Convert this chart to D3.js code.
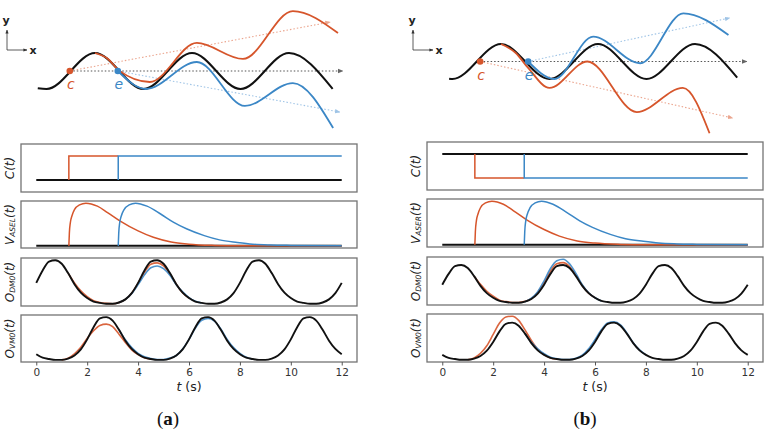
<!DOCTYPE html>
<html>
<head>
<meta charset="utf-8">
<script src="https://cdn.jsdelivr.net/npm/d3@7"></script>
<style>
  body { margin: 0; background: #fff; }
  svg { display: block; }
</style>
</head>
<body>
<svg id="fig" width="769" height="440"></svg>
<script>

// ---- data ----

const tickValues = [0, 2, 4, 6, 8, 10, 12];
const tGrid = d3.range(0, 12.001, 0.25);

// oscillator outputs, sampled every 0.25 s
const oDM0Black = [0.48,0.76,0.96,0.99,0.91,0.70,0.45,0.26,0.14,0.06,0.03,0.01,0.01,0.04,0.11,0.25,
                   0.48,0.76,0.96,0.99,0.91,0.70,0.45,0.26,0.14,0.06,0.03,0.01,0.01,0.04,0.11,0.25,
                   0.48,0.76,0.96,0.99,0.91,0.70,0.45,0.26,0.14,0.06,0.03,0.01,0.01,0.04,0.11,0.25,0.48];
const oVM0Black = [0.14,0.06,0.03,0.01,0.01,0.04,0.11,0.25,0.48,0.76,0.96,0.99,0.91,0.70,0.45,0.26,
                   0.14,0.06,0.03,0.01,0.01,0.04,0.11,0.25,0.48,0.76,0.96,0.99,0.91,0.70,0.45,0.26,
                   0.14,0.06,0.03,0.01,0.01,0.04,0.11,0.25,0.48,0.76,0.96,0.99,0.91,0.70,0.45,0.26,0.14];

// perturbed parts (t, value)
const oDM0RedA  = [[1.25,0.70],[1.5,0.48],[1.75,0.30],[2.0,0.17],[2.25,0.08],[2.5,0.04],[2.75,0.02],[3.0,0.01],[3.25,0.04],[3.5,0.11],[3.75,0.25],[4.0,0.47],[4.25,0.72],[4.5,0.90],[4.75,0.93],[5.0,0.86],[5.25,0.68],[5.5,0.45],[5.75,0.26],[6.0,0.14]];
const oDM0BlueA = [[3.25,0.04],[3.5,0.11],[3.75,0.24],[4.0,0.44],[4.25,0.66],[4.5,0.82],[4.75,0.86],[5.0,0.80],[5.25,0.65],[5.5,0.44],[5.75,0.28],[6.0,0.15],[6.25,0.07],[6.5,0.03]];
const oVM0RedA  = [[1.0,0.01],[1.25,0.05],[1.5,0.15],[1.75,0.30],[2.0,0.50],[2.25,0.68],[2.5,0.80],[2.75,0.83],[3.0,0.77],[3.25,0.60],[3.5,0.41],[3.75,0.24],[4.0,0.13],[4.25,0.06],[4.5,0.03]];
const oVM0BlueA = [[3.25,0.70],[3.5,0.47],[3.75,0.29],[4.0,0.16],[4.25,0.08],[4.5,0.04],[4.75,0.02],[5.0,0.02],[5.25,0.05],[5.5,0.11],[5.75,0.26],[6.0,0.48],[6.25,0.74],[6.5,0.92],[6.75,0.96],[7.0,0.90],[7.25,0.72],[7.5,0.48],[7.75,0.29],[8.0,0.16],[8.25,0.07],[8.5,0.03]];

const oDM0RedB  = [[1.25,0.70],[1.5,0.49],[1.75,0.31],[2.0,0.18],[2.25,0.08],[2.5,0.04],[2.75,0.02],[3.0,0.02],[3.25,0.05],[3.5,0.12],[3.75,0.28],[4.0,0.53],[4.25,0.83],[4.5,1.02],[4.75,1.05],[5.0,0.95],[5.25,0.73],[5.5,0.46],[5.75,0.26],[6.0,0.14]];
const oDM0BlueB = [[3.25,0.04],[3.5,0.13],[3.75,0.30],[4.0,0.58],[4.25,0.90],[4.5,1.10],[4.75,1.14],[5.0,1.02],[5.25,0.77],[5.5,0.48],[5.75,0.27],[6.0,0.14],[6.25,0.06]];
const oVM0RedB  = [[1.0,0.01],[1.25,0.06],[1.5,0.18],[1.75,0.38],[2.0,0.68],[2.25,0.98],[2.5,1.14],[2.75,1.16],[3.0,1.05],[3.25,0.80],[3.5,0.52],[3.75,0.29],[4.0,0.15],[4.25,0.06],[4.5,0.03]];
const oVM0BlueB = [[3.25,0.70],[3.5,0.47],[3.75,0.30],[4.0,0.17],[4.25,0.08],[4.5,0.04],[4.75,0.02],[5.0,0.02],[5.25,0.05],[5.5,0.13],[5.75,0.30],[6.0,0.54],[6.25,0.80],[6.5,0.98],[6.75,1.01],[7.0,0.93],[7.25,0.72],[7.5,0.46],[7.75,0.27],[8.0,0.14]];

// stimulus steps
const cBlackA = [[0,0],[12,0]];
const cRedA   = [[1.28,0],[1.28,1],[3.22,1]];
const cBlueA  = [[3.22,0],[3.22,1],[12,1]];
const cBlackB = [[0,1],[12,1]];
const cRedB   = [[1.28,1],[1.28,0],[3.22,0]];
const cBlueB  = [[3.22,1],[3.22,0],[12,0]];

// ASE responses
const vBlack = [[0,0],[12,0]];
const vRed  = [[1.28,0],[1.30,0.30],[1.34,0.55],[1.40,0.70],[1.5,0.85],[1.7,0.96],[1.95,1.0],[2.4,0.93],[2.8,0.78],[3.3,0.58],[4.0,0.35],[4.6,0.20],[5.3,0.09],[6.0,0.04],[7.0,0.01],[8.0,0],[12,0]];
const vBlue = [[3.22,0],[3.24,0.30],[3.28,0.55],[3.34,0.70],[3.45,0.85],[3.65,0.96],[3.9,1.0],[4.35,0.93],[4.9,0.74],[5.4,0.55],[5.9,0.40],[6.6,0.24],[7.2,0.14],[7.9,0.08],[8.5,0.04],[9.2,0.02],[10.0,0.01],[12,0]];

// sketch curves (phase units, amplitude units)
const sketchBlackA = [[-0.18,-0.96],[0,-1],[1,1],[2,-1],[3,1],[4,-1],[5,1],[5.9,-0.99]];
const sketchRedA   = [[1,1],[1.25,0.71],[1.5,0.02],[2.13,-0.61],[3.1,1.56],[4.05,0.67],[5.08,3.33],[6.01,2.11]];
const sketchBlueA  = [[1.47,0],[2.05,-1.0],[3.1,0.5],[4.09,-1.94],[5.08,-0.67],[5.91,-3.17]];
const sketchBlackB = [[-0.07,-0.98],[0,-1],[1,1],[2,-1],[3,1],[4,-1],[5,1],[5.87,-0.92]];
const sketchRedB   = [[1,1],[1.3,0.5],[1.56,-0.37],[2.0,-1.51],[2.78,0.0],[3.8,-2.89],[4.75,-1.51],[5.3,-4.1]];
const sketchBlueB  = [[1.56,0],[2.1,-1.0],[2.9,1.42],[3.87,-0.1],[4.76,2.75],[5.69,1.51]];
const guideA = { c: 0.48, e: 1.47, black: [6.11, 0], red: [5.85, 2.72], blue: [6.05, -2.28] };
const guideB = { c: 0.57, e: 1.56, black: [6.07, 0], red: [5.78, -3.23], blue: [5.72, 2.49] };

// ---- drawing ----

const RED = "#d6552b", BLUE = "#3b87c6", BLACK = "#111";

const svg = d3.select("#fig");

const defs = svg.append("defs");
function arrowMarker(id, color) {
    defs.append("marker")
        .attr("id", id)
        .attr("viewBox", "0 0 10 10")
        .attr("refX", 9).attr("refY", 5)
        .attr("markerWidth", 5).attr("markerHeight", 5)
        .attr("orient", "auto")
        .append("path")
        .attr("d", "M0,1 L10,5 L0,9 Z")
        .attr("fill", color);
}
arrowMarker("arK", "#666");
arrowMarker("arR", "#eba58e");
arrowMarker("arB", "#9fc4e6");
arrowMarker("arA", "#333");

const panels = [
    {
        x0: 21, x1: 357, dx: 0, sketchX: [46.5, 337.5], sketchY: [89, 53],
        frames: [[144,192],[201,248],[258,306],[315,362]],
        sub: "ASEL", label: "a", labelX: 168,
        c: [cBlackA, cRedA, cBlueA],
        oDM: [oDM0RedA, oDM0BlueA], oVM: [oVM0RedA, oVM0BlueA],
        sk: [sketchBlackA, sketchRedA, sketchBlueA], guide: guideA
    },
    {
        x0: 427, x1: 763, dx: 406, sketchX: [452.5, 743.5], sketchY: [79, 44],
        frames: [[142,190],[199,247],[257,305],[314,362]],
        sub: "ASER", label: "b", labelX: 585,
        c: [cBlackB, cRedB, cBlueB],
        oDM: [oDM0RedB, oDM0BlueB], oVM: [oVM0RedB, oVM0BlueB],
        sk: [sketchBlackB, sketchRedB, sketchBlueB], guide: guideB
    }
];

const blackDM = tGrid.map((t, i) => [t, oDM0Black[i]]);
const blackVM = tGrid.map((t, i) => [t, oVM0Black[i]]);

function padded(values) {
    const [lo, hi] = d3.extent(values);
    const p = (hi - lo) * 0.05;
    return [lo - p, hi + p];
}

panels.forEach(function (P) {
    const g = svg.append("g");

    const x = d3.scaleLinear().domain([-0.6, 12.6]).range([P.x0, P.x1]);

    function yLabel(gg, frame, main, sub) {
        const t = gg.append("text")
            .attr("transform", `translate(${P.x0 - 11},${(frame[0] + frame[1]) / 2}) rotate(-90)`)
            .attr("text-anchor", "middle")
            .attr("dominant-baseline", "middle")
            .style("font-family", "DejaVu Sans")
            .style("font-style", "italic")
            .style("font-size", "12px")
            .attr("fill", "#222");
        t.append("tspan").text(main);
        if (sub) {
            t.append("tspan").attr("dy", 3).style("font-size", "7.5px").text(sub);
            t.append("tspan").attr("dy", -3).text("(t)");
        } else {
            t.append("tspan").text("(t)");
        }
    }

    function panel(frame, domain, series, label, sub, curve) {
        const y = d3.scaleLinear().domain(domain).range([frame[1], frame[0]]);
        const line = d3.line().x(d => x(d[0])).y(d => y(d[1])).curve(curve);
        g.selectAll(null)
            .data(series)
            .enter()
            .append("path")
            .attr("d", d => line(d.pts))
            .attr("fill", "none")
            .attr("stroke", d => d.color)
            .attr("stroke-width", d => d.w)
            .attr("stroke-opacity", d => d.op || 1);
        g.append("rect")
            .attr("x", P.x0).attr("y", frame[0])
            .attr("width", P.x1 - P.x0).attr("height", frame[1] - frame[0])
            .attr("fill", "none")
            .attr("stroke", "#737373")
            .attr("stroke-width", 1.3);
        yLabel(g, frame, label, sub);
        return y;
    }

    // C(t)
    panel(P.frames[0], [-0.5, 1.5], [
        { pts: P.c[0], color: BLACK, w: 2 },
        { pts: P.c[1], color: RED, w: 1.5 },
        { pts: P.c[2], color: BLUE, w: 1.5 }
    ], "C", null, d3.curveLinear);

    // V_ASE(t)
    panel(P.frames[1], padded([0, 1]), [
        { pts: vBlack, color: BLACK, w: 2 },
        { pts: vRed, color: RED, w: 1.5 },
        { pts: vBlue, color: BLUE, w: 1.5 }
    ], "V", P.sub, d3.curveMonotoneX);

    // O_DM0(t)
    const dmVals = oDM0Black.concat(P.oDM[0].map(d => d[1]), P.oDM[1].map(d => d[1]));
    panel(P.frames[2], padded(dmVals), [
        { pts: P.oDM[0], color: RED, w: 1.6, op: 0.9 },
        { pts: P.oDM[1], color: BLUE, w: 1.6, op: 0.9 },
        { pts: blackDM, color: BLACK, w: 1.9 }
    ], "O", "DM0", d3.curveMonotoneX);

    // O_VM0(t)
    const vmVals = oVM0Black.concat(P.oVM[0].map(d => d[1]), P.oVM[1].map(d => d[1]));
    panel(P.frames[3], padded(vmVals), [
        { pts: P.oVM[0], color: RED, w: 1.6, op: 0.9 },
        { pts: P.oVM[1], color: BLUE, w: 1.6, op: 0.9 },
        { pts: blackVM, color: BLACK, w: 1.9 }
    ], "O", "VM0", d3.curveMonotoneX);

    // bottom axis
    const ax = g.append("g")
        .attr("transform", `translate(0,${P.frames[3][1]})`)
        .call(d3.axisBottom(x).tickValues(tickValues).tickSize(3.5).tickPadding(3));
    ax.select(".domain").remove();
    ax.selectAll("line").attr("stroke", "#555");
    ax.selectAll("text")
        .style("font-family", "DejaVu Sans")
        .style("font-size", "10.5px")
        .attr("fill", "#333");

    const xl = g.append("text")
        .attr("x", (P.x0 + P.x1) / 2).attr("y", 391)
        .attr("text-anchor", "middle")
        .style("font-family", "DejaVu Sans")
        .style("font-size", "12.5px")
        .attr("fill", "#222");
    xl.append("tspan").style("font-style", "italic").text("t");
    xl.append("tspan").text(" (s)");

    const cap = g.append("text")
        .attr("x", P.labelX).attr("y", 425)
        .attr("text-anchor", "middle")
        .style("font-family", "Liberation Serif")
        .style("font-size", "19px")
        .attr("fill", "#111");
    cap.append("tspan").text("(");
    cap.append("tspan").style("font-weight", "bold").text(P.label);
    cap.append("tspan").text(")");

    // ---- sketch ----
    const sx = d3.scaleLinear().domain([0, 6]).range(P.sketchX);
    const sy = d3.scaleLinear().domain([-1, 1]).range(P.sketchY);
    const sLine = d3.line().x(d => sx(d[0])).y(d => sy(d[1])).curve(d3.curveMonotoneX);
    const G = P.guide;

    function guide(from, to, color, marker, dash) {
        g.append("line")
            .attr("x1", sx(from)).attr("y1", sy(0))
            .attr("x2", sx(to[0])).attr("y2", sy(to[1]))
            .attr("stroke", color)
            .attr("stroke-width", 1.1)
            .attr("stroke-dasharray", dash)
            .attr("marker-end", `url(#${marker})`);
    }
    guide(G.c, G.red, "#eba58e", "arR", "1.5,2");
    guide(G.e, G.blue, "#9fc4e6", "arB", "1.5,2");
    guide(G.c, G.black, "#555", "arK", "1.5,2");

    g.append("path").attr("d", sLine(P.sk[0]))
        .attr("fill", "none").attr("stroke", BLACK).attr("stroke-width", 2);
    g.append("path").attr("d", sLine(P.sk[1]))
        .attr("fill", "none").attr("stroke", RED).attr("stroke-width", 1.8);
    g.append("path").attr("d", sLine(P.sk[2]))
        .attr("fill", "none").attr("stroke", BLUE).attr("stroke-width", 1.8);

    [[G.c, RED, "c"], [G.e, BLUE, "e"]].forEach(function (d) {
        g.append("circle")
            .attr("cx", sx(d[0])).attr("cy", sy(0)).attr("r", 3.3)
            .attr("fill", d[1]);
        g.append("text")
            .attr("x", sx(d[0]) + 1).attr("y", sy(0) + 18)
            .attr("text-anchor", "middle")
            .style("font-family", "DejaVu Sans")
            .style("font-style", "italic")
            .style("font-size", "14px")
            .attr("fill", d[1])
            .text(d[2]);
    });

    // small axes glyph
    const ox = 7 + P.dx, oy = 50;
    g.append("line").attr("x1", ox).attr("y1", oy).attr("x2", ox).attr("y2", oy - 20)
        .attr("stroke", "#333").attr("stroke-width", 0.8).attr("marker-end", "url(#arA)");
    g.append("line").attr("x1", ox).attr("y1", oy).attr("x2", ox + 20).attr("y2", oy)
        .attr("stroke", "#333").attr("stroke-width", 0.8).attr("marker-end", "url(#arA)");
    g.append("text").attr("x", ox - 1).attr("y", oy - 26)
        .attr("text-anchor", "middle")
        .style("font-family", "DejaVu Sans").style("font-weight", "bold").style("font-size", "11px")
        .attr("fill", "#222").text("y");
    g.append("text").attr("x", ox + 26).attr("y", oy + 4)
        .attr("text-anchor", "middle")
        .style("font-family", "DejaVu Sans").style("font-weight", "bold").style("font-size", "11px")
        .attr("fill", "#222").text("x");
});

</script>
</body>
</html>
